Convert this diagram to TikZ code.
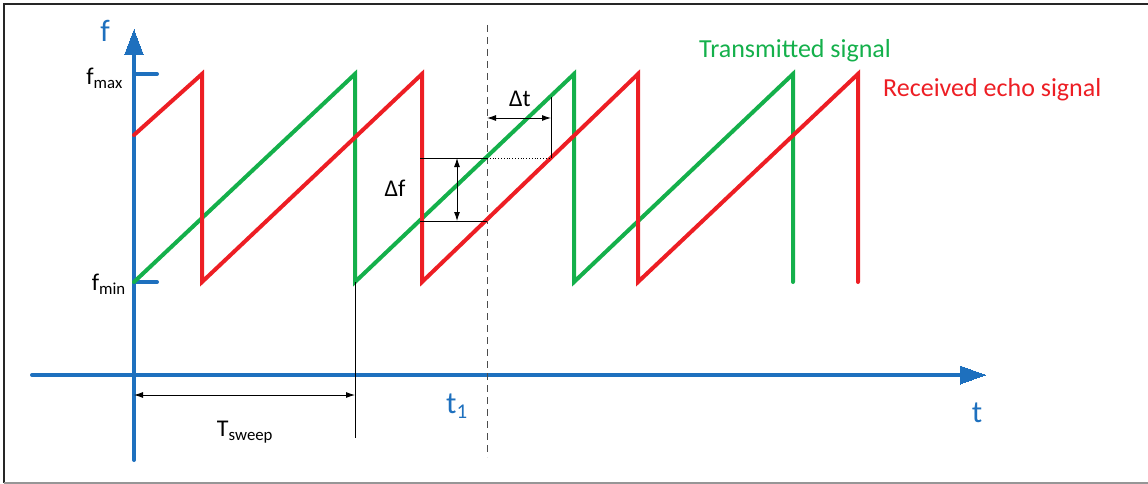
\documentclass[tikz,border=0pt]{standalone}
\usepackage{fontspec}
\setmainfont{Carlito}
\usetikzlibrary{arrows.meta}
\definecolor{axblue}{RGB}{30,112,190}
\definecolor{sgreen}{RGB}{20,176,75}
\definecolor{sred}{RGB}{237,30,36}
\definecolor{framegray}{RGB}{150,150,150}
\tikzset{
  axis/.style={axblue,line width=4pt,line cap=round},
  tx/.style={sgreen,line width=4pt,line join=miter,line cap=round},
  rx/.style={sred,line width=4pt,line join=miter,line cap=round},
  thin/.style={black,line width=0.9pt},
  dim/.style={thin,{Latex[length=9pt,width=6pt]}-{Latex[length=9pt,width=6pt]}},
  lbl/.style={inner sep=0pt,font=\fontsize{24}{28}\selectfont},
  leg/.style={inner sep=0pt,anchor=west,font=\fontsize{26}{30}\selectfont},
  axlbl/.style={inner sep=0pt,text=axblue,font=\fontsize{31}{35}\selectfont},
}
\begin{document}
\begin{tikzpicture}[x=1pt,y=-1pt]
\useasboundingbox (0,0) rectangle (1148,484);
% frame
\draw[black!85,line width=1.2pt] (4,483) -- (4,4) -- (1148,4);
\draw[framegray,line width=1.2pt] (4,483) -- (1148,483);
% coordinates
\coordinate (O) at (134,375);
\coordinate (ytop) at (134,30);
\coordinate (ybot) at (134,460);
\coordinate (xl) at (32,375);
\coordinate (xr) at (985,375);
% axes
\draw[axis] (ybot) -- (134,50);
\draw[axblue,line width=0pt,fill=axblue] (ytop) -- (124.5,55) -- (143.5,55) -- cycle;
\draw[axis] (xl) -- (962,375);
\draw[axblue,line width=0pt,fill=axblue] (xr) -- (960,366) -- (960,384) -- cycle;
\draw[axis] (134,74) -- (157,74);
\draw[axis] (134,282) -- (157,282);
\node[axlbl] (flab) at (105,31) {f};
\node[axlbl] (tlab) at (977,413) {t};
\node[axlbl] (t1lab) at (457,406) {t\textsubscript{\fontsize{21}{24}\selectfont 1}};
\node[lbl,anchor=east] (fmax) at (123,78) {f\textsubscript{max}};
\node[lbl,anchor=east] (fmin) at (126,284) {f\textsubscript{min}};
% dashed t1 line
\draw[black!70,line width=1pt,dash pattern=on 7pt off 5pt] (487,25) -- (487,457);
% signals
\draw[tx] (134,282) -- (355,74) -- (355,282) -- (574,74) -- (574,282) -- (793,74) -- (793,282);
\draw[rx] (134,135) -- (202,74) -- (202,282) -- (422,74) -- (422,282) -- (638,74) -- (638,282) -- (858,74) -- (858,282);
% delta f
\coordinate (df1) at (420,158);
\coordinate (df2) at (420,221);
\coordinate (pg) at (487,158);
\coordinate (pr) at (487,221);
\coordinate (dtr) at (551,158);
\draw[thin] (df1) -- (pg);
\draw[thin] (df2) -- (pr);
\draw[black,line width=0.8pt,dotted] (pg) -- (dtr);
\draw[thin] (dtr) -- (551,97);
\draw[dim] (457,158) -- (457,221);
\draw[dim] (487,118) -- (551,118);
\node[lbl] (dt) at (520,99) {Δt};
\node[lbl] (df) at (395,188) {Δf};
% T sweep
\draw[thin] (355,282) -- (355,438);
\draw[dim] (134,395) -- (355,395);
\node[lbl] (ts) at (245,432) {T\textsubscript{sweep}};
% legends
\node[leg,text=sgreen] (leg1) at (699,51) {Transmitted signal};
\node[leg,text=sred] (leg2) at (883,90) {Received echo signal};
\end{tikzpicture}
\end{document}
